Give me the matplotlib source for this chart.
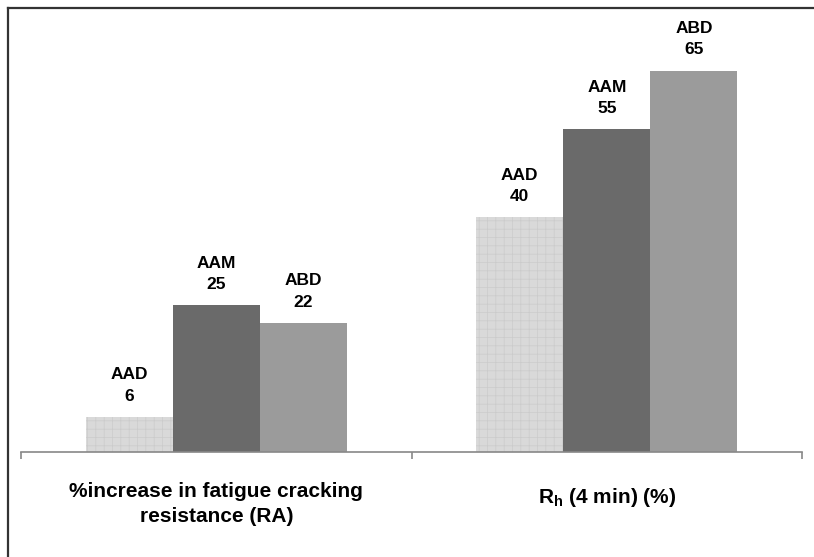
import matplotlib
matplotlib.use("Agg")
import matplotlib.pyplot as plt
from matplotlib.lines import Line2D
from matplotlib.transforms import blended_transform_factory
import numpy as np

plt.rcParams['font.family'] = ['Liberation Sans', 'DejaVu Sans']
plt.rcParams['hatch.linewidth'] = 0.5

categories = ['%increase in fatigue cracking\nresistance (RA)',
              r'R$_{\mathregular{h}}$ (4 min) (%)']
series = ['AAD', 'AAM', 'ABD']
values = {
    'AAD': [6, 40],
    'AAM': [25, 55],
    'ABD': [22, 65],
}

colors = {'AAD': '#d9d9d9', 'AAM': '#6a6a6a', 'ABD': '#9b9b9b'}

fig = plt.figure(figsize=(8.14, 5.57), dpi=100)
W, H = 814, 557
ax = fig.add_axes([21 / W, (H - 452) / H, (802 - 21) / W, 440 / H])

x = np.arange(len(categories))
width = 0.223
for i, name in enumerate(series):
    pos = x + (i - 1) * width
    if name == 'AAD':
        # canvas-like texture for the first series
        bars = ax.bar(pos, values[name], width, color=colors[name],
                      edgecolor='#cbcbcb', linewidth=0, hatch='++')
    else:
        bars = ax.bar(pos, values[name], width, color=colors[name], linewidth=0)
    for b, v in zip(bars, values[name]):
        ax.annotate(f'{name}\n{v}', (b.get_x() + b.get_width() / 2, v),
                    xytext=(0, 9.5), textcoords='offset points',
                    ha='center', va='bottom', fontsize=12.5,
                    fontweight='bold', linespacing=1.55)

ax.set_xlim(-0.5, 1.5)
ax.set_ylim(0, 75)
for s in ['top', 'right', 'left']:
    ax.spines[s].set_visible(False)
ax.spines['bottom'].set_color('#888888')
ax.spines['bottom'].set_linewidth(1.2)
ax.set_yticks([])
ax.set_xticks([-0.5, 0.5, 1.5])
ax.set_xticklabels([])
ax.tick_params(axis='x', length=5, width=1.2, color='#888888')

trans = blended_transform_factory(ax.transData, ax.transAxes)
label_y = [-0.069, -0.078]
for xi, lab, ly in zip(x, categories, label_y):
    ax.text(xi, ly, lab, transform=trans, ha='center', va='top',
            fontsize=15, fontweight='bold', linespacing=1.4)

# outer chart border
fig.add_artist(Line2D([8 / W, 8 / W], [0, 1 - 8 / H], transform=fig.transFigure,
                      color='#333333', linewidth=1.6))
fig.add_artist(Line2D([8 / W, 1], [1 - 8 / H, 1 - 8 / H], transform=fig.transFigure,
                      color='#333333', linewidth=1.6))

fig.savefig('out.png', dpi=100)
